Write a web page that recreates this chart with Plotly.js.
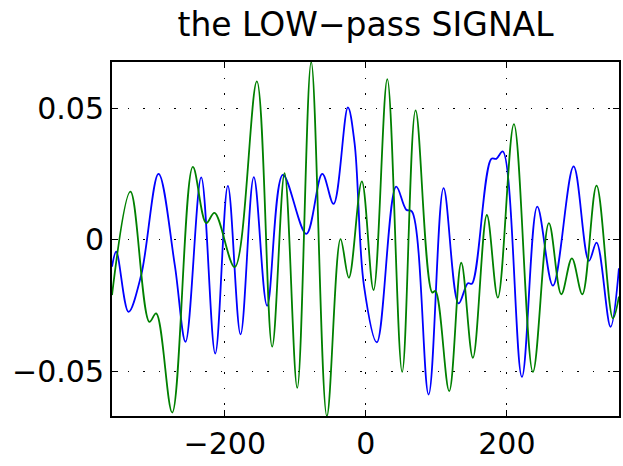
<!DOCTYPE html>
<html>
<head>
<meta charset="utf-8">
<script src="https://cdn.plot.ly/plotly-3.0.1.min.js"></script>
<style>html,body{margin:0;padding:0;background:#fff;}#chart{width:623px;height:466px;}</style>
</head>
<body>
<div id="chart"></div>
<script>
// Blue series (sample index, amplitude)
const blueX = [-360, -354, -336.6, -318.6, -294, -271, -255.7, -233.5, -213.6, -195.7, -177.7, -158.9, -140, -117.7, -84.5, -61.8, -45.8, -25.5, -16, -2.8, 15.6, 43, 57.3, 65.4, 89, 110.2, 131.5, 144.7, 150.4, 177.9, 185, 194.3, 221.3, 243.1, 265.3, 294.6, 316.3, 327.2, 347, 358.9];
const blueY = [-0.0102, -0.0045, -0.0274, -0.0134, 0.0252, -0.0095, -0.0388, 0.0238, -0.0433, 0.0206, -0.036, 0.0239, -0.0251, 0.0248, 0.0023, 0.0252, 0.0137, 0.0505, 0.0369, -0.0172, -0.039, 0.0203, 0.0115, 0.0108, -0.0589, 0.0197, -0.0242, -0.0165, -0.0167, 0.0309, 0.0309, 0.0337, -0.0522, 0.0127, -0.0174, 0.028, -0.008, -0.001, -0.0331, -0.0108];
// Green series
const greenX = [-360, -333.8, -307, -297.4, -274.6, -245.4, -226.4, -214.6, -186, -154.6, -132.9, -115.3, -97.3, -77.5, -55.3, -35.9, -24.1, -5.7, 10.9, 30.4, 51.5, 70.5, 94, 98.7, 118.2, 135.3, 151.8, 171.6, 187.2, 210, 236.9, 259.6, 277.2, 292.2, 307, 327.2, 350.3, 358.9];
const greenY = [-0.021, 0.0184, -0.0312, -0.028, -0.0658, 0.0278, 0.0064, 0.0103, -0.0104, 0.0604, -0.0407, 0.0254, -0.0564, 0.0678, -0.0671, 0.0003, -0.0144, 0.0223, -0.0191, 0.0613, -0.0503, 0.0494, -0.02, -0.0195, -0.0576, -0.0087, -0.0449, 0.0095, -0.022, 0.0441, -0.0503, 0.0064, -0.0207, -0.007, -0.0207, 0.0207, -0.0299, -0.0216];
// Axis ticks
const xTickVals = [-200, 0, 200];
const xTickText = ['\u2212200', '0', '200'];
const yTickVals = [-0.05, 0, 0.05];
const yTickText = ['\u22120.05', '0', '0.05'];
const titleText = 'the LOW\u2212pass SIGNAL';

const FONT = '"DejaVu Sans", "Liberation Sans", Arial, sans-serif';

const traces = [
  {x: blueX, y: blueY, type: 'scatter', mode: 'lines', line: {color: '#0000ff', width: 1.8, shape: 'spline', smoothing: 1}, hoverinfo: 'skip'},
  {x: greenX, y: greenY, type: 'scatter', mode: 'lines', line: {color: '#008000', width: 1.8, shape: 'spline', smoothing: 1}, hoverinfo: 'skip'}
];

const axisCommon = {
  showline: true, linecolor: '#000', linewidth: 2, mirror: 'allticks',
  ticks: 'inside', ticklen: 6, tickwidth: 1, tickcolor: '#000',
  showgrid: true, gridcolor: '#000', gridwidth: 1, griddash: '1.5px,14px',
  zeroline: false, tickfont: {family: FONT, size: 30, color: '#000'}
};

const layout = {
  width: 623, height: 466,
  margin: {l: 112, r: 4, t: 62, b: 50, pad: 0},
  paper_bgcolor: '#fff', plot_bgcolor: '#fff',
  showlegend: false,
  title: {text: titleText, font: {family: FONT, size: 33, color: '#000'}, x: 0.5, xanchor: 'center', xref: 'paper', y: 0.947, yref: 'container', yanchor: 'middle'},
  xaxis: Object.assign({}, axisCommon, {range: [-360, 359], tickvals: xTickVals, ticktext: xTickText}),
  yaxis: Object.assign({}, axisCommon, {range: [-0.0671, 0.0678], tickvals: yTickVals, ticktext: yTickText})
};

Plotly.newPlot('chart', traces, layout, {displayModeBar: false, staticPlot: true});
</script>
</body>
</html>
